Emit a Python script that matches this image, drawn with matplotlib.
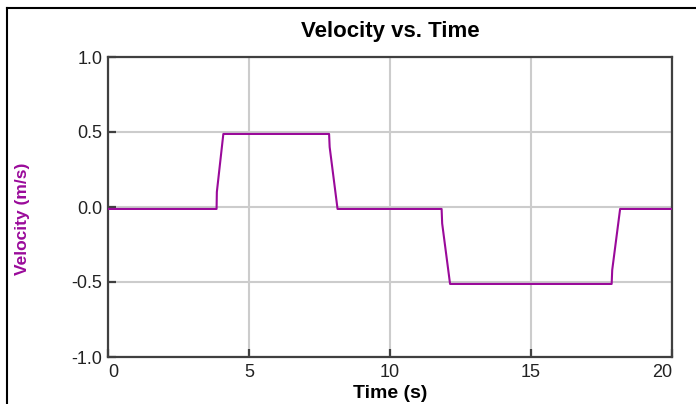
import matplotlib
matplotlib.use("Agg")
import matplotlib.pyplot as plt
from matplotlib.lines import Line2D

plt.rcParams['font.family'] = ['Liberation Sans', 'DejaVu Sans']

# data
time_s = [0, 3.85, 3.86, 4.09, 7.84, 7.86, 8.14, 11.83, 11.85, 12.13, 17.86, 17.88, 18.16, 20]
velocity = [-0.013, -0.013, 0.10, 0.487, 0.487, 0.40, -0.013, -0.013, -0.11, -0.513,
            -0.513, -0.42, -0.013, -0.013]
x_ticks = [0, 5, 10, 15, 20]
y_ticks = [-1.0, -0.5, 0.0, 0.5, 1.0]

purple = '#9a0a9a'
dark = '#404040'

W, H = 696, 404
fig = plt.figure(figsize=(W / 100, H / 100), dpi=100)
ax = fig.add_axes([108 / W, 1 - 357 / H, (672 - 108) / W, (357 - 57) / H])

ax.plot(time_s, velocity, color=purple, linewidth=1.5, zorder=3)

ax.set_xlim(0, 20)
ax.set_ylim(-1, 1)
ax.set_xticks(x_ticks)
ax.set_yticks(y_ticks)
ax.set_xticklabels([str(x) for x in x_ticks])
ax.set_yticklabels([f'{y:.1f}'.replace('\u2212', '-') for y in y_ticks])
ax.grid(True, color='#cccccc', linewidth=1.5, zorder=0)
ax.set_axisbelow(True)

for s in ax.spines.values():
    s.set_color(dark)
    s.set_linewidth(1.6)

ax.tick_params(axis='both', direction='in', length=6, width=1.6, color=dark,
               labelsize=13, labelcolor='#222222')
ax.tick_params(axis='y', pad=4)
ax.tick_params(axis='x', pad=5)

xl = ax.get_xticklabels()
xl[0].set_horizontalalignment('left')
xl[-1].set_horizontalalignment('right')

cx = (108 + 672) / 2 / W
fig.text(cx, 1 - 32 / H, 'Velocity vs. Time', ha='center', va='center',
         fontsize=16, fontweight='bold', color='black')
fig.text(cx, 1 - 393 / H, 'Time (s)', ha='center', va='center',
         fontsize=14, fontweight='bold', color='black')
fig.text(22 / W, 1 - 219 / H, 'Velocity (m/s)', ha='center', va='center',
         rotation=90, fontsize=12.5, fontweight='bold', color=purple)

# outer frame of the figure box
fig.add_artist(Line2D([7 / W, 7 / W], [0, 1 - 8 / H], transform=fig.transFigure,
                      color='black', linewidth=1.5))
fig.add_artist(Line2D([7 / W, 1], [1 - 8 / H, 1 - 8 / H], transform=fig.transFigure,
                      color='black', linewidth=1.5))

plt.savefig('out.png', dpi=100)
plt.close()
